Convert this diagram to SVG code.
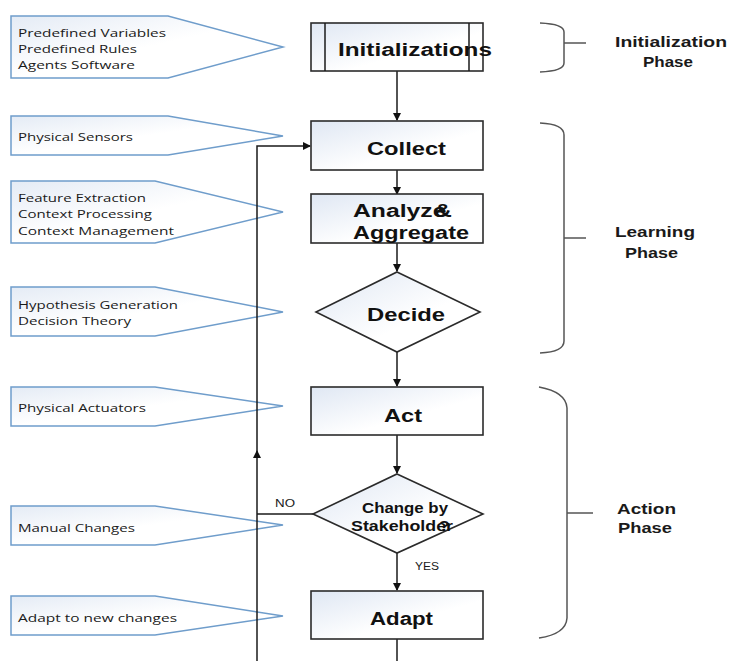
<svg xmlns="http://www.w3.org/2000/svg" width="732" height="661" viewBox="0 0 732 661">
<defs>
<linearGradient id="gb" x1="0" y1="0" x2="1" y2="1">
<stop offset="0" stop-color="#dfe7f3"/>
<stop offset="0.6" stop-color="#ffffff"/>
</linearGradient>
<linearGradient id="gc" x1="0" y1="0" x2="1" y2="1">
<stop offset="0" stop-color="#e4ebf5"/>
<stop offset="0.5" stop-color="#ffffff"/>
</linearGradient>
<marker id="ah" markerWidth="8" markerHeight="8" refX="7" refY="4" orient="auto" markerUnits="userSpaceOnUse">
<path d="M0,0 L8,4 L0,8 Z" fill="#111"/>
</marker>
</defs>
<style>
.box{fill:url(#gb);stroke:#2b2b2b;stroke-width:1.6}
.call{fill:url(#gc);stroke:#6f9dcb;stroke-width:1.5}
.ct{font-family:"Open Sans","Liberation Sans",sans-serif;font-size:11px;fill:#1a1a1a}
.mt{font-family:"Liberation Sans",Arial,sans-serif;font-weight:bold;font-size:18px;fill:#111}
.dt{font-family:"Liberation Sans",Arial,sans-serif;font-weight:bold;font-size:15px;fill:#111}
.pt{font-family:"Liberation Sans",Arial,sans-serif;font-weight:bold;font-size:15px;fill:#1a1a1a}
.lt{font-family:"Liberation Sans",Arial,sans-serif;font-size:10px;fill:#1a1a1a}
.br{fill:none;stroke:#555;stroke-width:1.5}
.cn{fill:none;stroke:#1a1a1a;stroke-width:1.5}
</style>
<rect width="732" height="661" fill="#fff"/>

<g id="callout-init">
<polygon class="call" points="11,16 168,16 283,47 168,78 11,78"/>
<text class="ct" x="18" y="36.5" textLength="148" lengthAdjust="spacingAndGlyphs">Predefined Variables</text>
<text class="ct" x="18" y="53" textLength="119" lengthAdjust="spacingAndGlyphs">Predefined Rules</text>
<text class="ct" x="18" y="69" textLength="117" lengthAdjust="spacingAndGlyphs">Agents Software</text>
</g>
<g id="callout-sensors">
<polygon class="call" points="11,116 168,116 283,136 168,155 11,155"/>
<text class="ct" x="18" y="140.5" textLength="115" lengthAdjust="spacingAndGlyphs">Physical Sensors</text>
</g>
<g id="callout-feature">
<polygon class="call" points="11,181 155,181 283,212 155,243 11,243"/>
<text class="ct" x="18" y="202" textLength="128" lengthAdjust="spacingAndGlyphs">Feature Extraction</text>
<text class="ct" x="18" y="218" textLength="134" lengthAdjust="spacingAndGlyphs">Context Processing</text>
<text class="ct" x="18" y="234.5" textLength="156" lengthAdjust="spacingAndGlyphs">Context Management</text>
</g>
<g id="callout-hypothesis">
<polygon class="call" points="11,287 155,287 283,312 155,336 11,336"/>
<text class="ct" x="18" y="309" textLength="160" lengthAdjust="spacingAndGlyphs">Hypothesis Generation</text>
<text class="ct" x="18" y="325" textLength="113" lengthAdjust="spacingAndGlyphs">Decision Theory</text>
</g>
<g id="callout-actuators">
<polygon class="call" points="11,387 155,387 283,406 155,426 11,426"/>
<text class="ct" x="18" y="412" textLength="128" lengthAdjust="spacingAndGlyphs">Physical Actuators</text>
</g>
<g id="callout-manual">
<polygon class="call" points="11,506 155,506 283,525 155,545 11,545"/>
<text class="ct" x="18" y="531.5" textLength="117" lengthAdjust="spacingAndGlyphs">Manual Changes</text>
</g>
<g id="callout-adapt">
<polygon class="call" points="11,596 155,596 283,616 155,635 11,635"/>
<text class="ct" x="18" y="622" textLength="159" lengthAdjust="spacingAndGlyphs">Adapt to new changes</text>
</g>

<g id="connectors">
<line class="cn" x1="397" y1="71" x2="397" y2="120" marker-end="url(#ah)"/>
<line class="cn" x1="397" y1="170" x2="397" y2="194" marker-end="url(#ah)"/>
<line class="cn" x1="397" y1="243" x2="397" y2="271" marker-end="url(#ah)"/>
<line class="cn" x1="397" y1="352" x2="397" y2="386" marker-end="url(#ah)"/>
<line class="cn" x1="397" y1="435" x2="397" y2="473" marker-end="url(#ah)"/>
<line class="cn" x1="397" y1="553" x2="397" y2="590" marker-end="url(#ah)"/>
<line class="cn" x1="397" y1="639" x2="397" y2="661"/>
<line class="cn" x1="313" y1="514" x2="257" y2="514"/>
<line class="cn" x1="257" y1="661" x2="257" y2="451" marker-end="url(#ah)"/>
<polyline class="cn" points="257,452 257,146 310,146" marker-end="url(#ah)"/>
<text class="lt" x="275" y="507" textLength="20" lengthAdjust="spacingAndGlyphs">NO</text>
<text class="lt" x="415" y="570" textLength="24" lengthAdjust="spacingAndGlyphs">YES</text>
</g>

<g id="initializations">
<rect class="box" x="311" y="23" width="172" height="48"/>
<line class="cn" x1="325" y1="23" x2="325" y2="71"/>
<line class="cn" x1="469" y1="23" x2="469" y2="71"/>
<text class="mt" x="338" y="56" textLength="154" lengthAdjust="spacingAndGlyphs">Initializations</text>
</g>
<g id="collect">
<rect class="box" x="311" y="121" width="172" height="49"/>
<text class="mt" x="367" y="155" textLength="79" lengthAdjust="spacingAndGlyphs">Collect</text>
</g>
<g id="analyze">
<rect class="box" x="311" y="194" width="172" height="49"/>
<text class="mt" x="353" y="217" textLength="99" lengthAdjust="spacingAndGlyphs">Analyze<tspan dx="-9">&amp;</tspan></text>
<text class="mt" x="353" y="239" textLength="116" lengthAdjust="spacingAndGlyphs">Aggregate</text>
</g>
<g id="decide">
<polygon class="box" points="397,272 480,312 397,352 316,312"/>
<text class="mt" x="367" y="321" textLength="78" lengthAdjust="spacingAndGlyphs">Decide</text>
</g>
<g id="act">
<rect class="box" x="311" y="387" width="172" height="48"/>
<text class="mt" x="384" y="422" textLength="38" lengthAdjust="spacingAndGlyphs">Act</text>
</g>
<g id="change">
<polygon class="box" points="397,474 483,514 397,553 313,514"/>
<text class="dt" x="362" y="513" textLength="86" lengthAdjust="spacingAndGlyphs">Change by</text>
<text class="dt" x="351" y="531" textLength="102" lengthAdjust="spacingAndGlyphs">Stakeholder<tspan dx="-12">?</tspan></text>
</g>
<g id="adapt">
<rect class="box" x="311" y="591" width="172" height="48"/>
<text class="mt" x="370" y="625" textLength="63" lengthAdjust="spacingAndGlyphs">Adapt</text>
</g>

<g id="phase-init">
<path class="br" d="M540,23 Q564,24 564,32 L564,63 Q564,71 540,72 M564,43 L586,43"/>
<text class="pt" x="615" y="47" textLength="112" lengthAdjust="spacingAndGlyphs">Initialization</text>
<text class="pt" x="643" y="67" textLength="50" lengthAdjust="spacingAndGlyphs">Phase</text>
</g>
<g id="phase-learning">
<path class="br" d="M540,123 Q564,124 564,135 L564,341 Q564,352 540,353 M564,238 L586,238"/>
<text class="pt" x="615" y="237" textLength="80" lengthAdjust="spacingAndGlyphs">Learning</text>
<text class="pt" x="625" y="258" textLength="53" lengthAdjust="spacingAndGlyphs">Phase</text>
</g>
<g id="phase-action">
<path class="br" d="M539,387 Q566,392 567,408 L567,618 Q566,634 539,638 M567,513 L593,513"/>
<text class="pt" x="617" y="514" textLength="59" lengthAdjust="spacingAndGlyphs">Action</text>
<text class="pt" x="618" y="533" textLength="54" lengthAdjust="spacingAndGlyphs">Phase</text>
</g>
</svg>
